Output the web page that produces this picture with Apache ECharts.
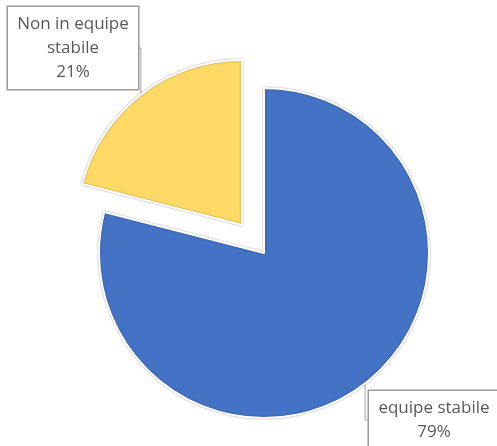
<!DOCTYPE html>
<html>
<head>
<meta charset="utf-8">
<script src="https://cdn.jsdelivr.net/npm/echarts@6/dist/echarts.min.js"></script>
<style>
  html, body { margin: 0; padding: 0; background: #fff; }
  #chart { width: 497px; height: 446px; }
</style>
</head>
<body>
<div id="chart"></div>
<script>
// Team composition shares
const categories = ['equipe stabile', 'Non in equipe stabile'];
const labelTexts = ['equipe stabile', 'Non in equipe\nstabile'];
const shares = [79, 21];
const colors = ['#4472C4', '#FFD966'];

// Label box centres (px)
const labelCenters = [[434, 420], [73, 48]];
// Pie centre, and the pulled-out centre of the exploded slice
const pieCenter = [264, 253];
const explodedCenter = [242, 225];

const chart = echarts.init(document.getElementById('chart'), null, { renderer: 'canvas' });

const sliceStyle = {
  borderColor: '#ffffff',
  borderWidth: 2,
  shadowColor: 'rgba(0,0,0,0.35)',
  shadowBlur: 2
};

const labelStyle = {
  show: true,
  position: 'outside',
  formatter: p => labelTexts[p.dataIndex] + '\n' + p.value + '%',
  fontFamily: 'Open Sans',
  fontSize: 17,
  lineHeight: 24,
  color: '#595959',
  align: 'center',
  backgroundColor: '#ffffff',
  borderColor: '#9a9a9a',
  borderWidth: 1.5,
  padding: [5, 7, 5, 7],
  width: 116
};

const hidden = {
  itemStyle: { color: 'transparent', borderWidth: 0, shadowBlur: 0 },
  label: { show: false },
  labelLine: { show: false }
};

// One pie per slice so the exploded slice can sit at its own centre
function sliceSeries(shown, center) {
  return {
    type: 'pie',
    center: center,
    radius: 165,
    startAngle: 90,
    clockwise: true,
    silent: true,
    avoidLabelOverlap: false,
    emphasis: { disabled: true },
    itemStyle: sliceStyle,
    label: labelStyle,
    labelLine: {
      show: true,
      length: 10,
      length2: 10,
      lineStyle: { color: '#a6a6a6', width: 1 }
    },
    labelLayout: function (params) {
      const c = labelCenters[params.dataIndex];
      return { x: c[0], y: c[1], align: 'center', verticalAlign: 'middle' };
    },
    data: categories.map((name, i) => Object.assign(
      { name: name, value: shares[i], itemStyle: { color: colors[i] } },
      i === shown ? {} : hidden
    ))
  };
}

chart.setOption({
  animation: false,
  series: [
    sliceSeries(0, pieCenter),
    sliceSeries(1, explodedCenter)
  ]
});
</script>
</body>
</html>
